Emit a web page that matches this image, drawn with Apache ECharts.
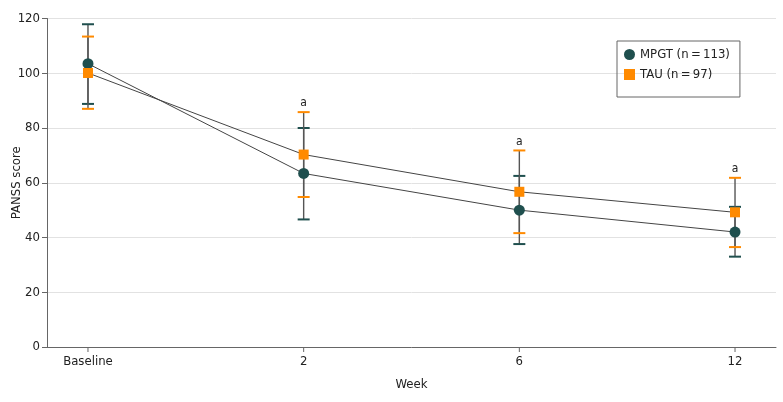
<!DOCTYPE html>
<html>
<head>
<meta charset="utf-8">
<script src="https://cdn.jsdelivr.net/npm/echarts@6/dist/echarts.min.js"></script>
<style>
html,body{margin:0;padding:0;background:#fff;}
#chart{width:783px;height:402px;}
</style>
</head>
<body>
<div id="chart"></div>
<script>
var weeks = ['Baseline', '2', '6', '12'];
var mpgtMean = [103.5, 63.4, 50.0, 42.0];
var mpgtUpper = [117.9, 80.0, 62.5, 51.2];
var mpgtLower = [88.8, 46.6, 37.6, 33.0];
var tauMean = [100.1, 70.3, 56.7, 49.2];
var tauUpper = [113.4, 85.8, 71.8, 61.8];
var tauLower = [87.0, 54.8, 41.6, 36.5];
var sigLabels = ['', 'a', 'a', 'a'];
var yTicks = [0, 20, 40, 60, 80, 100, 120];

var FONT = '"DejaVu Sans Condensed", "Liberation Sans Narrow", sans-serif';
var TEAL = '#1f4f4e';
var ORANGE = '#ff8a00';

function pts(arr) { return arr.map(function (v, i) { return [i, v]; }); }
function errData(lo, hi) { return lo.map(function (v, i) { return [i, v, hi[i]]; }); }

function errRender(color) {
  return function (params, api) {
    var x = api.value(0);
    var lo = api.coord([x, api.value(1)]);
    var hi = api.coord([x, api.value(2)]);
    var w = 6;
    return {
      type: 'group',
      children: [
        { type: 'line', shape: { x1: lo[0], y1: lo[1], x2: hi[0], y2: hi[1] }, style: { stroke: '#555', lineWidth: 1.4 } },
        { type: 'line', shape: { x1: lo[0] - w, y1: lo[1], x2: lo[0] + w, y2: lo[1] }, style: { stroke: color, lineWidth: 2 } },
        { type: 'line', shape: { x1: hi[0] - w, y1: hi[1], x2: hi[0] + w, y2: hi[1] }, style: { stroke: color, lineWidth: 2 } }
      ]
    };
  };
}

var sigData = sigLabels.map(function (s, i) { return [i, Math.max(mpgtUpper[i], tauUpper[i]), s]; });
var tickData = weeks.map(function (w, i) { return [i, 0]; });

var chart = echarts.init(document.getElementById('chart'));
chart.setOption({
  animation: false,
  textStyle: { fontFamily: FONT },
  grid: { left: 47, right: 7, top: 18.5, bottom: 55, containLabel: false, outerBoundsMode: 'none' },
  legend: {
    orient: 'vertical',
    left: 617, top: 41,
    padding: [7, 10, 16, 7],
    itemGap: 7,
    itemWidth: 11, itemHeight: 11,
    borderColor: '#666', borderWidth: 1,
    textStyle: { fontFamily: FONT, fontSize: 13, color: '#222' },
    data: [
      { name: 'MPGT (n\u2009=\u2009113)', icon: 'circle' },
      { name: 'TAU (n\u2009=\u200997)', icon: 'rect' }
    ]
  },
  xAxis: {
    type: 'value',
    min: -0.19, max: 3.19,
    name: 'Week', nameLocation: 'middle', nameGap: 31, nameMoveOverlap: false,
    nameTextStyle: { fontFamily: FONT, fontSize: 13, color: '#222' },
    axisLine: { show: true, onZero: false, lineStyle: { color: '#666' } },
    axisTick: { show: false },
    axisLabel: { customValues: [0, 1, 2, 3], margin: 8, fontFamily: FONT, fontSize: 13, color: '#222',
      formatter: function (v) { return weeks[Math.round(v)]; } },
    splitLine: { show: false }
  },
  yAxis: {
    type: 'value',
    min: 0, max: 120, interval: 20,
    name: 'PANSS score', nameLocation: 'middle', nameGap: 24, nameRotate: 90, nameMoveOverlap: false,
    nameTextStyle: { fontFamily: FONT, fontSize: 13, color: '#222' },
    axisLine: { show: true, onZero: false, lineStyle: { color: '#666' } },
    axisTick: { show: true, length: 5, lineStyle: { color: '#666' } },
    axisLabel: { margin: 7, fontFamily: FONT, fontSize: 13, color: '#222',
      formatter: function (v) { return yTicks.indexOf(v) >= 0 ? String(v) : ''; } },
    splitLine: { show: true, lineStyle: { color: '#e2e2e2', width: 1 } }
  },
  series: [
    {
      type: 'custom', name: 'xticks', silent: true, z: 2, clip: false,
      data: tickData,
      renderItem: function (params, api) {
        var p = api.coord([api.value(0), api.value(1)]);
        return { type: 'line', shape: { x1: p[0], y1: p[1], x2: p[0], y2: p[1] + 5 }, style: { stroke: '#666', lineWidth: 1 } };
      }
    },
    { type: 'custom', name: 'errMPGT', renderItem: errRender(TEAL), data: errData(mpgtLower, mpgtUpper), z: 1, silent: true },
    { type: 'custom', name: 'errTAU', renderItem: errRender(ORANGE), data: errData(tauLower, tauUpper), z: 1, silent: true },
    {
      type: 'line', name: 'MPGT (n\u2009=\u2009113)', data: pts(mpgtMean), z: 3,
      symbol: 'circle', symbolSize: 11,
      itemStyle: { color: TEAL },
      lineStyle: { color: '#444', width: 1 }
    },
    {
      type: 'line', name: 'TAU (n\u2009=\u200997)', data: pts(tauMean), z: 3,
      symbol: 'rect', symbolSize: 10,
      itemStyle: { color: ORANGE },
      lineStyle: { color: '#444', width: 1 }
    },
    {
      type: 'custom', name: 'sig', silent: true, z: 4,
      data: sigData,
      renderItem: function (params, api) {
        var p = api.coord([api.value(0), api.value(1)]);
        return { type: 'text', style: { x: p[0], y: p[1] - 3, text: sigData[params.dataIndex][2], textAlign: 'center', textVerticalAlign: 'bottom', fontFamily: FONT, fontSize: 12, fill: '#222' } };
      }
    }
  ]
});
</script>
</body>
</html>
